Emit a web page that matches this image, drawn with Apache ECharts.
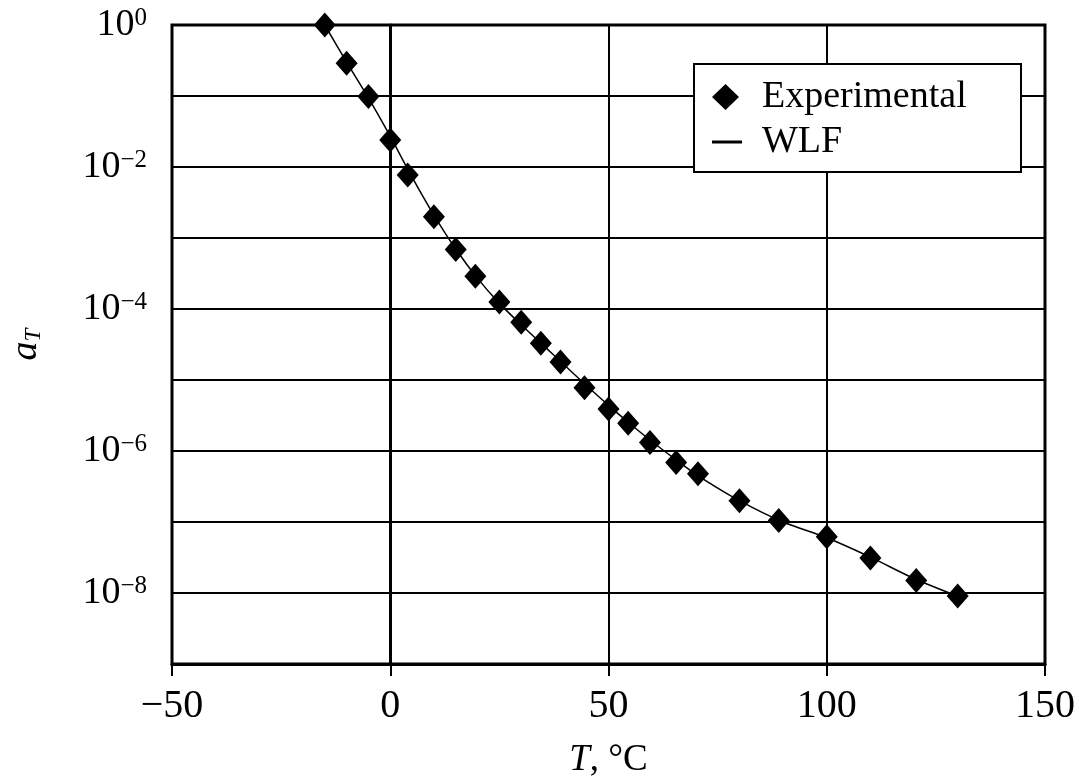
<!DOCTYPE html>
<html>
<head>
<meta charset="utf-8">
<title>Shift factor a_T versus temperature</title>
<script src="https://cdn.jsdelivr.net/npm/echarts@6/dist/echarts.min.js"></script>
<style>
  html, body { margin: 0; padding: 0; background: #fff; overflow: hidden; }
  #chart { width: 1079px; height: 777px; }
</style>
</head>
<body>
<div id="chart"></div>
<script>
// Measured shift factors
const expTemps = [-15, -10, -5, 0, 4, 10, 15, 19.5, 25, 30, 34.5, 39, 44.5, 50, 54.5, 59.5, 65.5, 70.5, 80, 89, 100, 110, 120.5, 130];
const expShift = [1.0, 0.29, 0.098, 0.024, 0.0077, 0.002, 6.9e-4, 2.9e-4, 1.25e-4, 6.5e-5, 3.3e-5, 1.8e-5, 7.8e-6, 3.9e-6, 2.45e-6, 1.32e-6, 6.9e-7, 4.8e-7, 2.0e-7, 1.05e-7, 6.2e-8, 3.1e-8, 1.5e-8, 9.1e-9];

// WLF curve samples
const wlfTemps = [-15, -10, -5, 0, 5, 10, 15, 20, 25, 30, 35, 40, 45, 50, 55, 60, 65, 70, 80, 90, 100, 110, 120, 130];
const wlfShift = [1.0, 0.30, 0.094, 0.027, 0.0072, 0.0021, 7.0e-4, 2.7e-4, 1.2e-4, 6.0e-5, 3.1e-5, 1.6e-5, 8.3e-6, 4.4e-6, 2.4e-6, 1.35e-6, 7.9e-7, 4.7e-7, 2.0e-7, 1.0e-7, 6.0e-8, 3.2e-8, 1.6e-8, 9.0e-9];

// Axis settings
const xTicks = { min: -50, max: 150, step: 50 };
const yRange = { min: 1e-9, max: 1 };
const yLabelExponents = [0, -2, -4, -6, -8];

const SERIF = '"Liberation Serif", "DejaVu Serif", serif';
const legendText = { fontFamily: SERIF, fontSize: 38, lineHeight: 40, color: '#000', padding: [0, 0, 0, 15] };

const chart = echarts.init(document.getElementById('chart'), null, { renderer: 'canvas' });

const option = {
  backgroundColor: '#ffffff',
  animation: false,
  grid: {
    left: 172, top: 25, width: 873, height: 639,
    containLabel: false,
    outerBoundsMode: 'none',
    show: true, borderColor: '#000', borderWidth: 3
  },
  // legend frame
  graphic: [{
    type: 'rect',
    shape: { x: 694, y: 64, width: 327, height: 108 },
    style: { fill: '#fff', stroke: '#000', lineWidth: 2 },
    z: 50
  }],
  legend: [
    {
      left: 712, top: 77, padding: 0,
      itemWidth: 27, itemHeight: 26,
      textStyle: Object.assign({}, legendText, { padding: [0, 0, 0, 18] }),
      data: [{ name: 'Experimental', icon: 'diamond', itemStyle: { color: '#000', opacity: 1 } }],
      z: 60
    },
    {
      left: 712, top: 122, padding: 0,
      itemWidth: 30, itemHeight: 3,
      textStyle: legendText,
      data: [{ name: 'WLF', icon: 'rect', itemStyle: { color: '#000' } }],
      z: 60
    }
  ],
  xAxis: {
    type: 'value',
    min: xTicks.min, max: xTicks.max, interval: xTicks.step,
    name: '{i|T}{r|, °C}',
    nameLocation: 'middle',
    nameGap: 78,
    nameTextStyle: {
      rich: {
        i: { fontFamily: SERIF, fontSize: 37, fontStyle: 'italic', color: '#000' },
        r: { fontFamily: SERIF, fontSize: 37, color: '#000' }
      }
    },
    axisLine: { show: true, lineStyle: { color: '#000', width: 3 } },
    axisTick: { show: true, inside: false, length: 12, lineStyle: { color: '#000', width: 2 } },
    axisLabel: {
      margin: 22, color: '#000', fontFamily: SERIF, fontSize: 40,
      formatter: v => (v < 0 ? '\u2212' + Math.abs(v) : String(v))
    },
    splitLine: { show: true, lineStyle: { color: '#000', width: 2 } }
  },
  yAxis: {
    type: 'log', logBase: 10,
    min: yRange.min, max: yRange.max,
    name: '{a|a}{t|T}',
    nameLocation: 'middle',
    nameRotate: 90,
    nameGap: 127,
    nameTextStyle: {
      rich: {
        a: { fontFamily: SERIF, fontSize: 38, fontStyle: 'italic', color: '#000', lineHeight: 38, verticalAlign: 'top' },
        t: { fontFamily: SERIF, fontSize: 23, fontStyle: 'italic', color: '#000', lineHeight: 20, verticalAlign: 'bottom' }
      }
    },
    axisLine: { show: true, lineStyle: { color: '#000', width: 3 } },
    axisTick: { show: true, inside: false, length: 13, lineStyle: { color: '#000', width: 2 } },
    axisLabel: {
      margin: 25,
      formatter: v => {
        const e = Math.round(Math.log10(v));
        if (yLabelExponents.indexOf(e) < 0) return '';
        const sup = e < 0 ? '\u2212' + Math.abs(e) : String(e);
        return '{b|10}{s|' + sup + '}';
      },
      rich: {
        b: { fontFamily: SERIF, fontSize: 38, color: '#000', lineHeight: 38, verticalAlign: 'bottom' },
        s: { fontFamily: SERIF, fontSize: 25, color: '#000', lineHeight: 26, verticalAlign: 'top' }
      }
    },
    splitLine: { show: true, lineStyle: { color: '#000', width: 2 } },
    minorTick: { show: false },
    minorSplitLine: { show: false }
  },
  series: [
    {
      name: 'WLF',
      type: 'line',
      data: wlfTemps.map((t, i) => [t, wlfShift[i]]),
      symbol: 'none',
      smooth: 0.3,
      lineStyle: { color: '#000', width: 1.5 },
      itemStyle: { color: '#000' },
      z: 2
    },
    {
      name: 'Experimental',
      type: 'scatter',
      data: expTemps.map((t, i) => [t, expShift[i]]),
      symbol: 'diamond',
      symbolSize: [22, 25],
      itemStyle: { color: '#000', opacity: 1 },
      z: 3
    }
  ]
};

chart.setOption(option);
</script>
</body>
</html>
